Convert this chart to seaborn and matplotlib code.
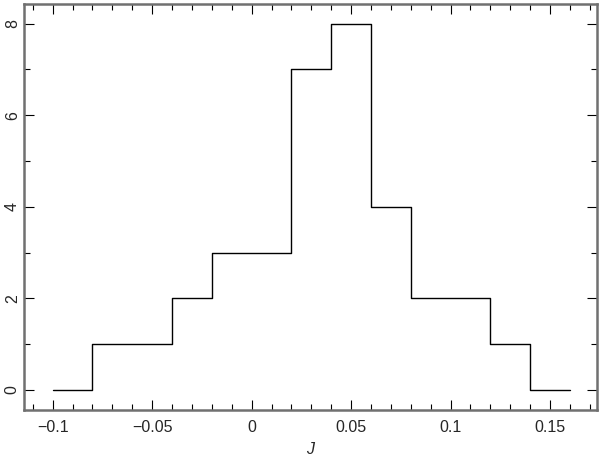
import numpy as np
import pandas as pd
import matplotlib
matplotlib.use("Agg")
import matplotlib.pyplot as plt
from matplotlib.ticker import MultipleLocator
import seaborn as sns

# bin edges and counts
bin_edges = [-0.10, -0.08, -0.06, -0.04, -0.02, 0.00, 0.02, 0.04, 0.06, 0.08, 0.10, 0.12, 0.14, 0.16]
counts = [0, 1, 1, 2, 3, 3, 7, 8, 4, 2, 2, 1, 0]
x_ticks = [-0.1, -0.05, 0, 0.05, 0.1, 0.15]
x_tick_labels = ["\u22120.1", "\u22120.05", "0", "0.05", "0.1", "0.15"]
y_ticks = [0, 2, 4, 6, 8]
x_label = "J"

sns.set_style("white")
plt.rcParams["font.family"] = ["Liberation Sans", "DejaVu Sans"]

df = pd.DataFrame({"x": bin_edges, "y": counts + [counts[-1]]})

fig = plt.figure(figsize=(6.0, 4.59), dpi=100)
ax = fig.add_axes([24 / 600, 1 - 410 / 459, (597 - 24) / 600, (410 - 3.5) / 459])

sns.lineplot(data=df, x="x", y="y", drawstyle="steps-post", color="black",
             linewidth=1.0, ax=ax, sort=False, estimator=None)

ax.set_xlim(-0.1144, 0.1736)
ax.set_ylim(-0.437, 8.44)

ax.set_xticks(x_ticks)
ax.set_xticklabels(x_tick_labels, fontsize=11.5)
ax.set_yticks(y_ticks)
ax.set_yticklabels([str(v) for v in y_ticks], fontsize=11.5, rotation=90, va="center")
ax.xaxis.set_minor_locator(MultipleLocator(0.01))
ax.yaxis.set_minor_locator(MultipleLocator(1))

ax.tick_params(which="both", direction="in", top=True, right=True, bottom=True, left=True,
               color="black", width=0.8)
ax.tick_params(which="major", length=7)
ax.tick_params(which="minor", length=4)
ax.tick_params(axis="x", which="major", pad=7)
ax.tick_params(axis="y", which="major", pad=3)

for s in ax.spines.values():
    s.set_color("#707070")
    s.set_linewidth(1.8)
    s.set_visible(True)

ax.set_xlabel(x_label, fontsize=11.5, style="italic")
ax.xaxis.set_label_coords((310 - 24) / 573, -(449 - 410) / 406.5)
ax.xaxis.label.set_va("center")
ax.set_ylabel("")

fig.savefig("out.png", dpi=100)
